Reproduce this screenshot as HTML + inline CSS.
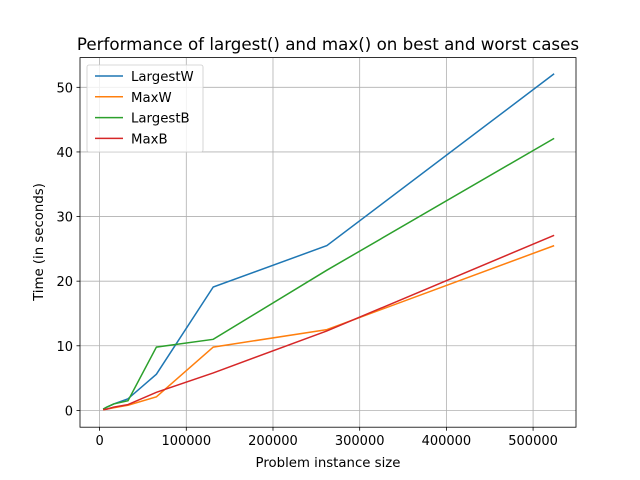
<!DOCTYPE html>
<html><head><meta charset="utf-8"><style>
body{margin:0;background:#fff}
svg{display:block;font-family:"DejaVu Sans","Liberation Sans",sans-serif}
</style></head><body>
<svg id="chart" width="640" height="480">
<rect width="640" height="480" fill="#fff"/>
<g id="grid"></g>
<g id="lines"></g>
<rect x="80" y="57.6" width="496" height="369.6" fill="none" stroke="#000" stroke-width="0.8"/>
<g id="ticks" font-size="13px"></g>
<text x="328" y="50" text-anchor="middle" font-size="16.7px">Performance of largest() and max() on best and worst cases</text>
<text x="328" y="467" text-anchor="middle" font-size="13.3px">Problem instance size</text>
<text x="0" y="0" transform="translate(43,242) rotate(-90)" text-anchor="middle" font-size="13.3px">Time (in seconds)</text>
<g id="legend" font-size="13.3px"></g>
</svg>
<script>
const xs=[4096,8192,16384,32768,65536,131072,262144,524288];
const largestW=[0.2,0.5,1.0,1.8,5.6,19.1,25.5,52.1];
const maxW=[0.1,0.2,0.4,0.8,2.1,9.8,12.5,25.5];
const largestB=[0.2,0.5,1.0,1.5,9.8,11.0,21.7,42.1];
const maxB=[0.1,0.2,0.5,0.9,2.8,5.8,12.3,27.1];
const seriesNames=["LargestW","MaxW","LargestB","MaxB"];
const xTicks=[0,100000,200000,300000,400000,500000];
const yTicks=[0,10,20,30,40,50];
const colors=["#1f77b4","#ff7f0e","#2ca02c","#d62728"];
const NS="http://www.w3.org/2000/svg";
const L=80,R=576,T=57.6,B=427.2;
const xmin=-22600,xmax=549500,ymin=-2.6,ymax=54.6;
const xp=v=>L+(v-xmin)/(xmax-xmin)*(R-L);
const yp=v=>B-(v-ymin)/(ymax-ymin)*(B-T);
function mk(t,a,p){const e=document.createElementNS(NS,t);for(const k in a)e.setAttribute(k,a[k]);p.appendChild(e);return e;}
const grid=document.getElementById('grid'),ticks=document.getElementById('ticks');
xTicks.forEach(v=>{const x=xp(v);
 const g=mk('line',{x1:x,x2:x,y1:T,y2:B,stroke:'#b0b0b0','stroke-width':0.8},grid);
 
 
 mk('line',{x1:x,x2:x,y1:B,y2:B+3.5,stroke:'#000','stroke-width':0.8},ticks);
 const t=mk('text',{x:x,y:B+18,'text-anchor':'middle'},ticks);t.textContent=v;
 
 });
yTicks.forEach(v=>{const y=yp(v);
 const g=mk('line',{x1:L,x2:R,y1:y,y2:y,stroke:'#b0b0b0','stroke-width':0.8},grid);
 
 
 mk('line',{x1:L-3.5,x2:L,y1:y,y2:y,stroke:'#000','stroke-width':0.8},ticks);
 const t=mk('text',{x:L-7,y:y+5,'text-anchor':'end'},ticks);t.textContent=v;
 
 });
const all=[largestW,maxW,largestB,maxB];
const lines=document.getElementById('lines');
all.forEach((s,i)=>{const p=mk('polyline',{points:s.map((v,j)=>xp(xs[j])+','+yp(v)).join(' '),fill:'none',stroke:colors[i],'stroke-width':1.5},lines);
 
 });
const lg=document.getElementById('legend');
const box=mk('rect',{x:87,y:65,width:116,height:87,rx:2,fill:'#fff','fill-opacity':0.8,stroke:'#ccc','stroke-width':0.8},lg);


seriesNames.forEach((n,i)=>{const y=76+i*20.8;
 mk('line',{x1:95,x2:123,y1:y,y2:y,stroke:colors[i],'stroke-width':1.5},lg);
 const t=mk('text',{x:131,y:y+5},lg);t.textContent=n;
 
 });
</script>
</body></html>
